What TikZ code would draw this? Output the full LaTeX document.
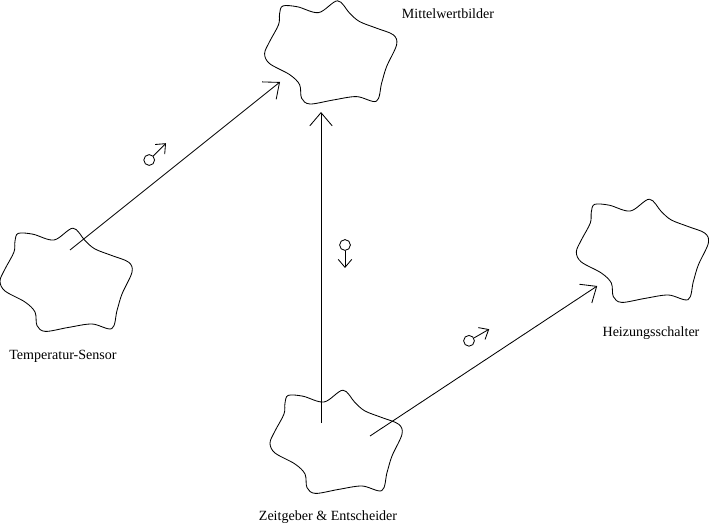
\documentclass[tikz,border=0pt]{standalone}
\usepackage{fontspec}
\setmainfont{Liberation Serif}
\usetikzlibrary{arrows.meta}
\tikzset{
  wolke/.pic={
    \draw plot[smooth cycle,tension=0.55] coordinates {(-1.3,0.95) (-1.22,1.14) (-0.85,1.12) (-0.325,0.975) (0.15,1.27) (0.45,0.96) (0.7,0.75) (1.125,0.585) (1.54,0.42) (1.625,0.17) (1.375,-0.375) (1.25,-0.79) (1.12,-1.24) (0.625,-1.125) (0.04,-1.21) (-0.54,-1.31) (-0.75,-1.165) (-0.8,-0.825) (-1.05,-0.575) (-1.55,-0.3) (-1.675,-0.05) (-1.55,0.25) (-1.325,0.675)};
    \coordinate (-mitte) at (0,0);
  },
  fluss/.style={circle,draw,minimum size=0.27cm,inner sep=0pt},
  klein/.style={-{Straight Barb[length=0.2cm,width=0.34cm]}},
}
\begin{document}
\begin{tikzpicture}[line width=0.6pt,>={Straight Barb[length=0.33cm,width=0.56cm]}]
	\useasboundingbox (0,0) rectangle (17.725,13.1);
	% Klassen
	\pic (mw) at (8.29,11.81) {wolke};
	\pic (ts) at (1.675,6.125) {wolke};
	\pic (ze) at (8.425,2.075) {wolke};
	\pic (hs) at (16.083,6.85) {wolke};
	\node (mwtext) at (11.2,12.75) {Mittelwertbilder};
	\node (tstext) at (1.575,4.2) {Temperatur-Sensor};
	\node (zetext) at (8.2,0.18) {Zeitgeber \& Entscheider};
	\node (hstext) at (16.275,4.775) {Heizungsschalter};
	% Verbindungen
	\coordinate (ts-aus) at (1.75,6.85);
	\coordinate (mw-ein) at (7.0,11.05);
	\coordinate (ze-aus) at (8.025,2.525);
	\coordinate (mw-unten) at (8.025,10.3);
	\coordinate (ze-rechts) at (9.25,2.2);
	\coordinate (hs-ein) at (14.93,5.95);
	\draw[->] (ts-aus) -- (mw-ein);
	\draw[->] (ze-aus) -- (mw-unten);
	\draw[->] (ze-rechts) -- (hs-ein);
	% Datenfluss
	\node[fluss] (f1) at (3.73,9.1) {};
	\node[fluss] (f2) at (8.625,6.975) {};
	\node[fluss] (f3) at (11.725,4.58) {};
	\coordinate (f1-spitze) at (4.15,9.52);
	\coordinate (f2-spitze) at (8.625,6.4);
	\coordinate (f3-spitze) at (12.23,4.87);
	\draw[klein] (f1) -- (f1-spitze);
	\draw[klein] (f2) -- (f2-spitze);
	\draw[klein] (f3) -- (f3-spitze);
\end{tikzpicture}
\end{document}
